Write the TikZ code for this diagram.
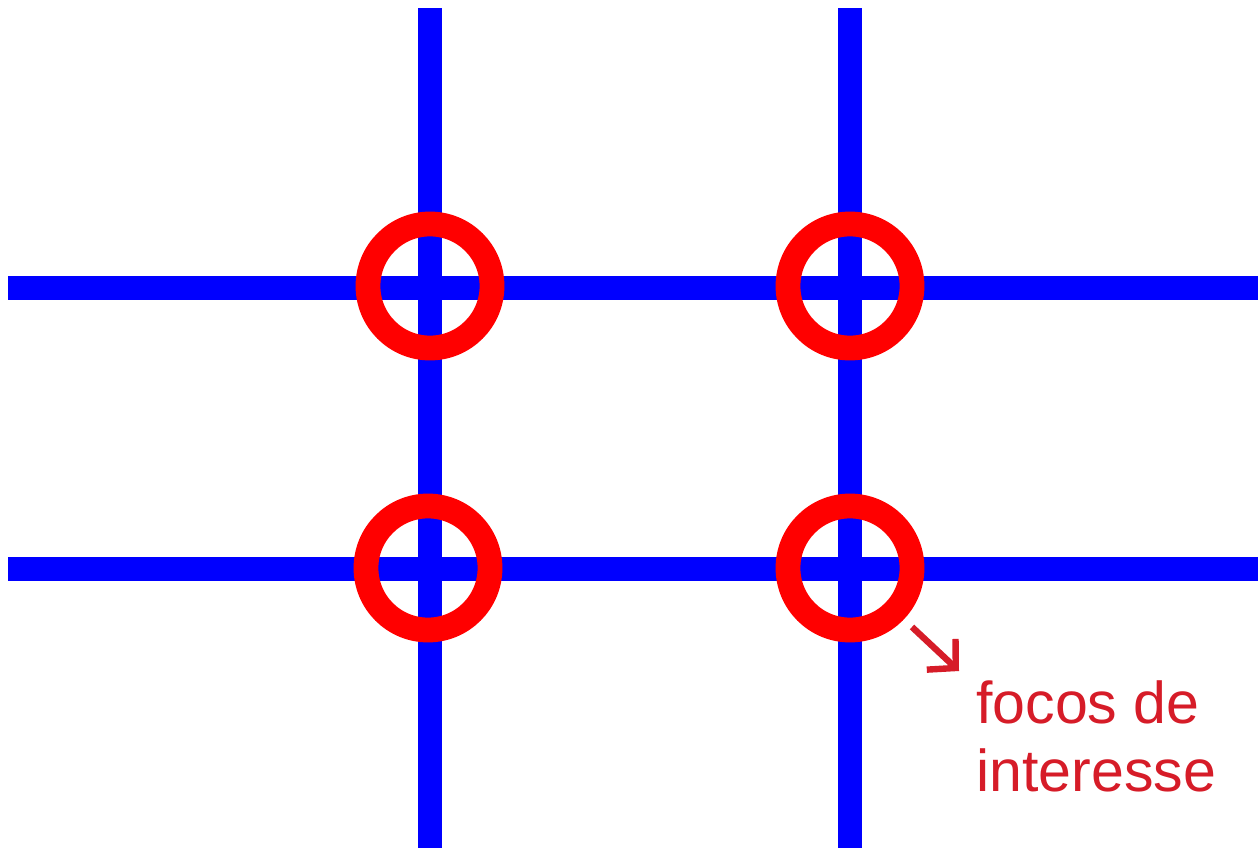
\documentclass[tikz,border=0pt]{standalone}
\usepackage{fontspec}
\setmainfont{Liberation Sans}
\usetikzlibrary{arrows.meta}
\definecolor{azul}{RGB}{0,0,255}
\definecolor{vermelho}{RGB}{255,0,0}
\definecolor{textovermelho}{RGB}{214,28,40}

\begin{document}
\begin{tikzpicture}[
  x=0.025cm, y=-0.025cm,
  linha/.style  = {azul, line width=0.62cm},
  foco/.style   = {circle, draw=vermelho, line width=0.62cm,
                   minimum size=3.1cm, inner sep=0pt},
  seta/.style   = {textovermelho, line width=0.16cm,
                   -{Straight Barb[length=0.5cm, width=1.05cm]}},
  rotulo/.style = {textovermelho, inner sep=0pt, align=left,
                   font=\fontsize{42}{48.4}\selectfont}
]
  % Fundo e margens
  \fill[white] (0,0) rectangle (1258,848);
  \useasboundingbox (0,0) rectangle (1258,848);

  % Linhas da grade (regra dos tercos)
  \draw[linha] (8,288) -- (1258,288);
  \draw[linha] (8,569) -- (1258,569);
  \draw[linha] (430,8) -- (430,848);
  \draw[linha] (850,8) -- (850,848);

  % Focos nas intersecoes
  \node[foco] (F1) at (430,286) {};
  \node[foco] (F2) at (850,286) {};
  \node[foco] (F3) at (428,568) {};
  \node[foco] (F4) at (850,568) {};

  % Legenda
  \node[rotulo, anchor=north west] (legenda) at (976,680) {focos de\\interesse};
  \coordinate (ini) at (912,627);
  \coordinate (fim) at (959,671);
  \draw[seta] (ini) -- (fim);
\end{tikzpicture}
\end{document}
